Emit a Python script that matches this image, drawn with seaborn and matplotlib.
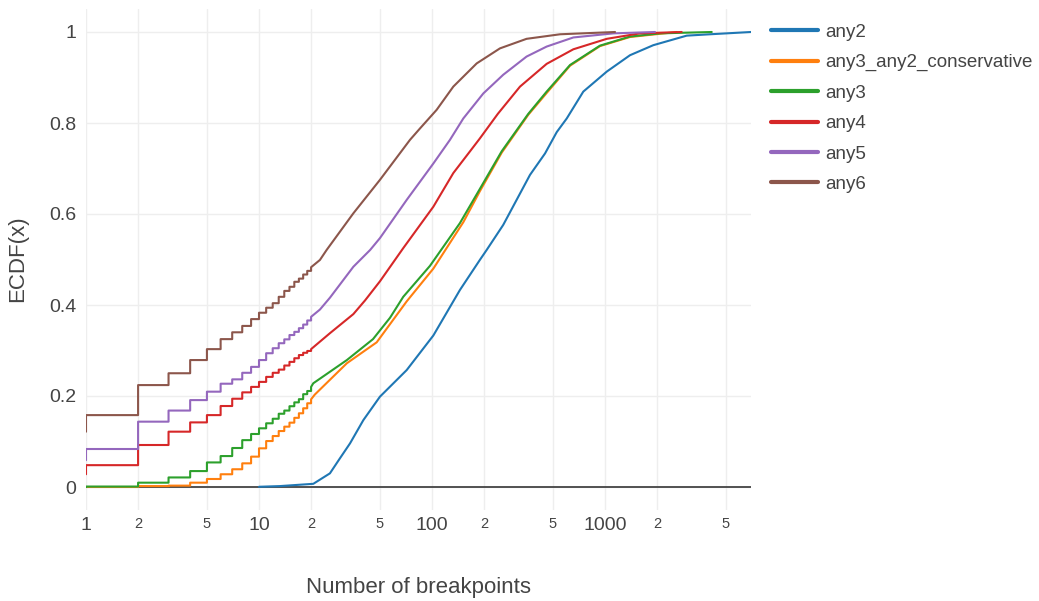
import numpy as np
import pandas as pd
import seaborn as sns
import matplotlib.pyplot as plt
from matplotlib.lines import Line2D

# Series names and colours (legend order)
names = ['any2', 'any3_any2_conservative', 'any3', 'any4', 'any5', 'any6']
colors = ['#1f77b4', '#ff7f0e', '#2ca02c', '#d62728', '#9467bd', '#8c564b']

# ECDF read at integer breakpoints 1..20 (step part), value before x=1 first
step_x = list(range(1, 21))
start_val = {'any2': None, 'any3_any2_conservative': 0.0, 'any3': 0.0,
             'any4': 0.028, 'any5': 0.059, 'any6': 0.1215}
step_any2 = []
step_cons = [0.0, 0.002, 0.003, 0.0095, 0.0176, 0.028, 0.039, 0.052, 0.0667, 0.085,
             0.101, 0.112, 0.123, 0.1326, 0.1414, 0.152, 0.162, 0.173, 0.184, 0.1927]
step_any3 = [0.001, 0.0095, 0.021, 0.035, 0.054, 0.068, 0.0857, 0.103, 0.1165, 0.129,
             0.140, 0.150, 0.161, 0.168, 0.1775, 0.186, 0.193, 0.204, 0.211, 0.220]
step_any4 = [0.048, 0.0923, 0.1216, 0.142, 0.158, 0.178, 0.194, 0.208, 0.220, 0.231,
             0.242, 0.251, 0.258, 0.267, 0.275, 0.283, 0.290, 0.295, 0.299, 0.303]
step_any5 = [0.0835, 0.1436, 0.168, 0.191, 0.2095, 0.227, 0.2366, 0.251, 0.264, 0.279,
             0.294, 0.305, 0.316, 0.3245, 0.334, 0.341, 0.349, 0.357, 0.366, 0.374]
step_any6 = [0.158, 0.224, 0.250, 0.279, 0.303, 0.325, 0.340, 0.354, 0.369, 0.383,
             0.394, 0.404, 0.418, 0.431, 0.440, 0.451, 0.458, 0.467, 0.475, 0.483]

# ECDF read at larger breakpoint counts (steps too fine to see)
tail_x_any2 = [10, 13.2, 20.6, 25.7, 29, 33.6, 40.1, 50, 71.4, 101.8, 145, 189, 207,
               258, 368.5, 450, 526, 601, 749, 1024, 1395, 1901, 2966, 4045, 6980]
tail_f_any2 = [0.0005, 0.002, 0.007, 0.03, 0.06, 0.096, 0.147, 0.1985, 0.257, 0.333,
               0.433, 0.499, 0.521, 0.576, 0.686, 0.733, 0.78, 0.81, 0.869, 0.913,
               0.949, 0.971, 0.992, 0.995, 1.0]
tail_x_cons = [21, 32.2, 47.9, 71.4, 101.8, 151.7, 189, 253, 360, 460, 628, 935,
               1395, 2600]
tail_f_cons = [0.203, 0.272, 0.318, 0.408, 0.48, 0.582, 0.65, 0.735, 0.818, 0.866,
               0.926, 0.969, 0.989, 1.0]
tail_x_any3 = [20.6, 32.2, 45.6, 57.2, 68.2, 97.3, 145, 189, 253, 360, 460, 628, 935,
               1395, 2080, 4140]
tail_f_any3 = [0.228, 0.279, 0.325, 0.372, 0.418, 0.486, 0.58, 0.655, 0.738, 0.82,
               0.869, 0.9275, 0.97, 0.99, 0.997, 1.0]
tail_x_any4 = [25.7, 35.1, 41, 50, 68.2, 101.8, 132.8, 166, 189, 240, 322.6, 460,
               656, 1024, 1593, 2774]
tail_f_any4 = [0.338, 0.38, 0.41, 0.452, 0.525, 0.616, 0.69, 0.738, 0.766, 0.82,
               0.88, 0.93, 0.962, 0.985, 0.997, 1.0]
tail_x_any5 = [22.5, 25.7, 35.1, 43.9, 50, 71.4, 101.8, 127, 151.7, 198, 258, 352,
               460, 656, 1117, 1945]
tail_f_any5 = [0.39, 0.416, 0.484, 0.521, 0.547, 0.631, 0.711, 0.763, 0.81, 0.865,
               0.906, 0.946, 0.968, 0.988, 0.997, 1.0]
tail_x_any6 = [22.5, 24.6, 35.1, 50, 74.6, 85.2, 106.4, 132.8, 181.3, 247, 352, 550,
               1143]
tail_f_any6 = [0.499, 0.521, 0.6015, 0.675, 0.763, 0.788, 0.829, 0.88, 0.931, 0.964,
               0.985, 0.995, 1.0]

steps = {'any2': step_any2, 'any3_any2_conservative': step_cons, 'any3': step_any3,
         'any4': step_any4, 'any5': step_any5, 'any6': step_any6}
tails = {'any2': (tail_x_any2, tail_f_any2),
         'any3_any2_conservative': (tail_x_cons, tail_f_cons),
         'any3': (tail_x_any3, tail_f_any3), 'any4': (tail_x_any4, tail_f_any4),
         'any5': (tail_x_any5, tail_f_any5), 'any6': (tail_x_any6, tail_f_any6)}

# Build step-shaped paths
rows = []
for name in names:
    pts = []
    sv = steps[name]
    if sv:
        pts.append((step_x[0], start_val[name]))
        prev = None
        for xk, v in zip(step_x, sv):
            if prev is not None:
                pts.append((xk, prev))
            pts.append((xk, v))
            prev = v
    tx, tf = tails[name]
    pts.extend(zip(tx, tf))
    for i, (xv, fv) in enumerate(pts):
        rows.append({'series': name, 'x': xv, 'ecdf': fv, 'i': i})
df = pd.DataFrame(rows)

sns.set_theme(style='white')
plt.rcParams['font.family'] = ['Liberation Sans', 'DejaVu Sans']
txt = '#444444'

W, H = 1039, 601
fig = plt.figure(figsize=(W / 100, H / 100), dpi=100)
ax = fig.add_axes([86 / W, 1 - 509.75 / H, 665 / W, 500.5 / H])

ax.axhline(0, color='#444444', lw=1.3, zorder=1)
sns.lineplot(data=df, x='x', y='ecdf', hue='series', hue_order=names, palette=colors,
             units='series', estimator=None, sort=False, legend=False,
             linewidth=1.5, ax=ax, zorder=3)

ax.set_xscale('log')
ax.set_xlim(1, 6980)
ax.set_ylim(-0.05, 1.05)

major = [1, 10, 100, 1000]
minor = [2, 5, 20, 50, 200, 500, 2000, 5000]
ax.set_xticks(major)
ax.set_xticklabels([str(m) for m in major], fontsize=14, color=txt)
ax.set_xticks(minor, minor=True)
ax.set_xticklabels([str(m)[0] for m in minor], minor=True, fontsize=10.5, color=txt)
ax.tick_params(axis='x', which='both', length=0, pad=5)

yt = [0, 0.2, 0.4, 0.6, 0.8, 1]
ax.set_yticks(yt)
ax.set_yticklabels(['0', '0.2', '0.4', '0.6', '0.8', '1'], fontsize=14, color=txt)
ax.tick_params(axis='y', length=0, pad=7)

ax.grid(True, which='both', color='#eeeeee', lw=1.0, zorder=0)
ax.set_axisbelow(True)
for s in ax.spines.values():
    s.set_visible(False)
ax.set_xlabel('')
ax.set_ylabel('')

fig.text(418.5 / W, 1 - 588 / H, 'Number of breakpoints', ha='center', va='center',
         fontsize=16, color=txt)
fig.text(18 / W, 1 - 259 / H, 'ECDF(x)', ha='center', va='center', rotation=90,
         fontsize=16, color=txt)

handles = [Line2D([0], [0], color=c, lw=3) for c in colors]
leg = ax.legend(handles, names, loc='upper left', bbox_to_anchor=(771 / W, 1 - 23.5 / H),
                bbox_transform=fig.transFigure, frameon=False, fontsize=13.5,
                handlelength=2.5, handletextpad=0.42, labelspacing=0.71,
                borderpad=0, borderaxespad=0)
for t in leg.get_texts():
    t.set_color(txt)

fig.savefig('out.png', dpi=100)
